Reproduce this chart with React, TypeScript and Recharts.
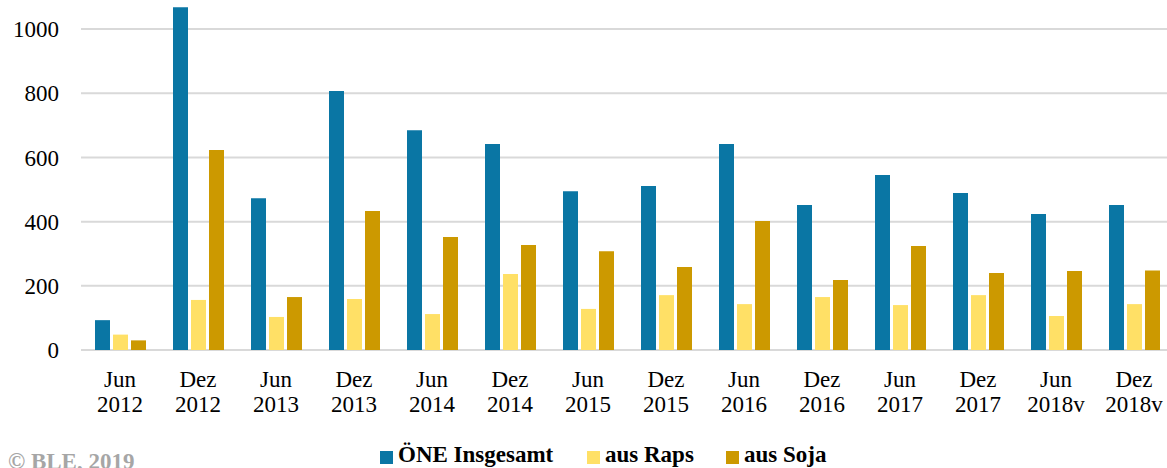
import { BarChart, Bar, XAxis, YAxis, CartesianGrid } from 'recharts';

const periods = [
  'Jun 2012', 'Dez 2012', 'Jun 2013', 'Dez 2013', 'Jun 2014', 'Dez 2014', 'Jun 2015',
  'Dez 2015', 'Jun 2016', 'Dez 2016', 'Jun 2017', 'Dez 2017', 'Jun 2018v', 'Dez 2018v',
];
const oneInsgesamt = [93, 1068, 473, 807, 685, 642, 495, 511, 642, 452, 545, 489, 424, 452];
const ausRaps = [48, 156, 103, 159, 112, 237, 128, 171, 143, 165, 140, 171, 106, 143];
const ausSoja = [30, 623, 165, 433, 352, 327, 308, 259, 402, 218, 324, 240, 246, 248];
const yTicks = [0, 200, 400, 600, 800, 1000];

const series = [
  { key: 'gesamt', name: 'ÖNE Insgesamt', color: '#0A76A4' },
  { key: 'raps', name: 'aus Raps', color: '#FFE066' },
  { key: 'soja', name: 'aus Soja', color: '#CC9900' },
];

const data = periods.map((p, i) => ({
  period: p,
  gesamt: oneInsgesamt[i],
  raps: ausRaps[i],
  soja: ausSoja[i],
}));

const FONT = '"Liberation Serif", "Times New Roman", serif';

const PeriodTick = ({ x, y, payload }: { x?: number; y?: number; payload?: { value: string } }) => {
  const [month, year] = (payload?.value ?? '').split(' ');
  return (
    <text x={x} y={y} textAnchor="middle" fontFamily={FONT} fontSize={23} fill="#000">
      <tspan x={x} dy={37}>{month}</tspan>
      <tspan x={x} dy={25}>{year}</tspan>
    </text>
  );
};

const legendX = [380, 587, 726];

export default function App() {
  return (
    <div style={{
      position: 'absolute', left: 0, top: 0, width: 1167, height: 468,
      overflow: 'hidden', background: '#fff', fontFamily: FONT,
    }}>
      <BarChart
        width={1175} height={468} data={data}
        margin={{ top: -3, right: 2, bottom: 48, left: 0 }}
        barSize={15} barGap={3}
      >
        <CartesianGrid vertical={false} stroke="#d9d9d9" strokeWidth={2} />
        <XAxis
          dataKey="period" tick={<PeriodTick />} tickLine={false} axisLine={false}
          tickSize={0} tickMargin={0} height={70} interval={0}
        />
        <YAxis
          domain={[0, 1100]} ticks={yTicks} width={81} tickLine={false} axisLine={false}
          tickSize={0} tickMargin={22}
          tick={{ fill: '#000', fontSize: 23, fontFamily: FONT }}
        />
        {series.map(s => (
          <Bar key={s.key} dataKey={s.key} name={s.name} fill={s.color} isAnimationActive={false} />
        ))}
      </BarChart>

      {series.map((s, i) => (
        <div key={s.key} style={{
          position: 'absolute', left: legendX[i], top: 443, display: 'flex', alignItems: 'center',
          fontWeight: 700, fontSize: 23, color: '#000', whiteSpace: 'nowrap', lineHeight: '23px',
        }}>
          <span style={{ width: 13, height: 13, background: s.color, display: 'inline-block', marginRight: 5, marginTop: 6 }} />
          {s.name}
        </div>
      ))}

      <div style={{
        position: 'absolute', left: 8, top: 450, fontWeight: 700, fontSize: 23,
        color: '#a6a6a6', whiteSpace: 'nowrap', lineHeight: '23px',
      }}>
        © BLE, 2019
      </div>
    </div>
  );
}
